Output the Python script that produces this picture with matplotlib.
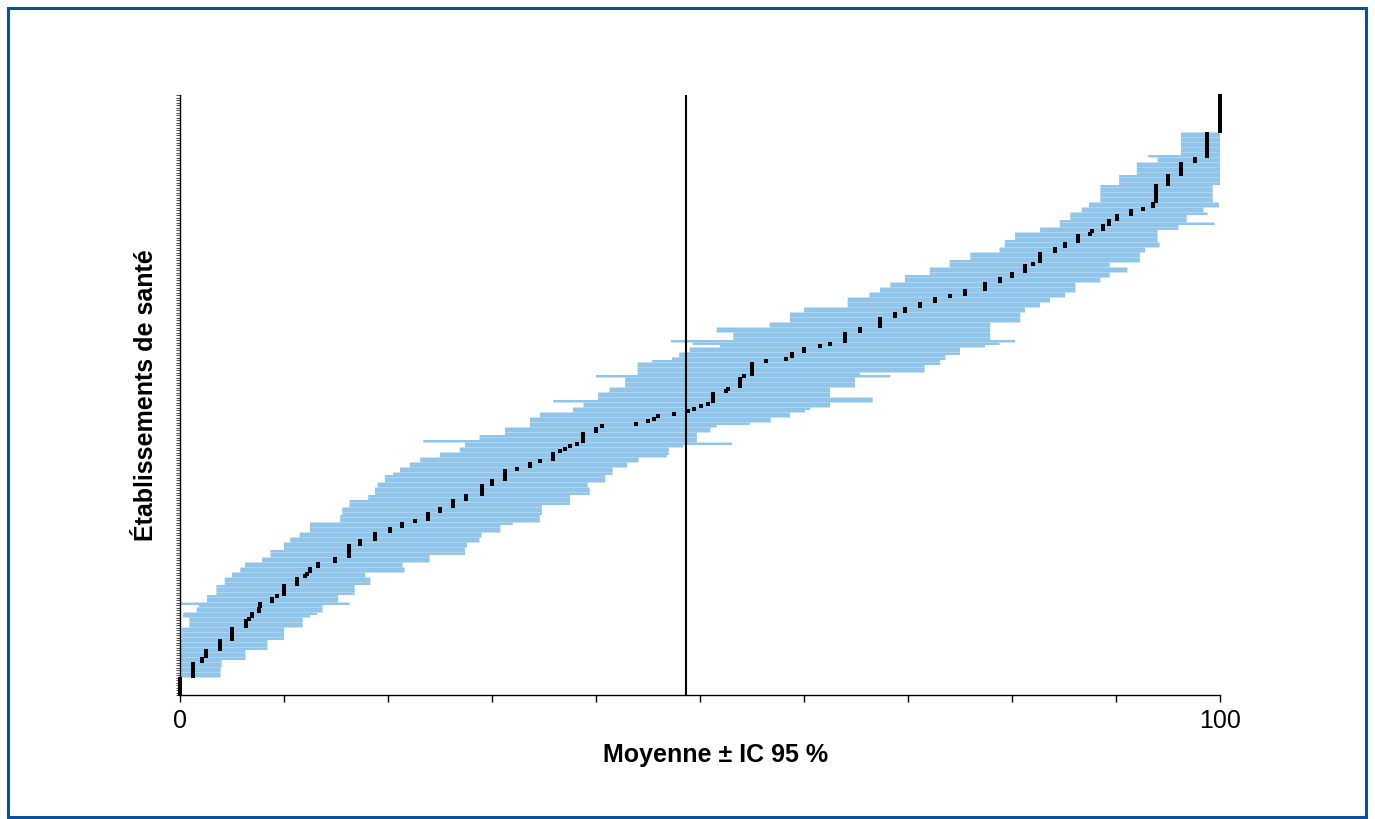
import matplotlib

matplotlib.use("Agg")
import matplotlib.pyplot as plt
import numpy as np
from matplotlib.patches import Rectangle

plt.rcParams["font.family"] = ["Liberation Sans", "DejaVu Sans"]

# Etablissements tries par moyenne (du bas vers le haut du graphique)
moyenne = [
    0, 0, 0, 0, 0, 0, 0, 1.25, 1.25, 1.25,
    1.25, 1.25, 1.25, 2.1, 2.1, 2.5, 2.5, 2.5, 3.8, 3.8,
    3.8, 3.8, 5.0, 5.0, 5.0, 5.0, 5.0, 6.3, 6.3, 6.3,
    6.6, 6.9, 6.9, 7.6, 7.6, 7.7, 7.7, 8.8, 8.8, 9.3,
    10.0, 10.0, 10.0, 10.0, 11.25, 11.25, 11.25, 12.0, 12.2, 12.5,
    12.5, 13.3, 13.3, 14.9, 14.9, 16.25, 16.25, 16.25, 16.25, 16.25,
    17.3, 17.3, 18.75, 18.75, 18.75, 20.2, 20.2, 21.3, 21.3, 22.6,
    23.8, 23.8, 23.8, 25.0, 25.0, 26.25, 26.25, 26.25, 27.5, 27.5,
    29.0, 29.0, 29.0, 29.0, 30.0, 30.0, 31.25, 31.25, 31.25, 31.25,
    32.4, 33.65, 33.65, 34.6, 35.9, 35.9, 35.9, 36.5, 37.0, 37.5,
    38.2, 38.75, 38.75, 38.75, 38.75, 40.0, 40.0, 40.6, 43.85, 45.0,
    45.6, 46.0, 47.5, 48.8, 49.4, 50.1, 50.8, 51.25, 51.25, 51.25,
    51.25, 52.5, 52.7, 53.8, 53.8, 53.8, 53.8, 54.2, 55.0, 55.0,
    55.0, 55.0, 55.0, 56.3, 58.3, 58.8, 58.8, 60.0, 60.0, 61.5,
    62.5, 63.9, 63.9, 63.9, 63.9, 65.4, 65.4, 67.3, 67.3, 67.3,
    67.3, 68.75, 68.75, 69.7, 69.7, 71.15, 71.15, 72.6, 72.6, 74.0,
    75.5, 75.5, 77.4, 77.4, 77.4, 78.8, 78.8, 80.0, 80.0, 81.25,
    81.25, 81.25, 82.0, 82.7, 82.7, 82.7, 82.7, 84.1, 84.1, 85.1,
    85.1, 86.3, 86.3, 86.3, 87.5, 87.7, 88.75, 88.75, 89.3, 89.3,
    90.1, 90.1, 91.4, 91.4, 92.6, 93.6, 93.6, 93.85, 93.85, 93.85,
    93.85, 93.85, 93.85, 93.85, 95.0, 95.0, 95.0, 95.0, 96.25, 96.25,
    96.25, 96.25, 96.25, 97.6, 97.6, 98.75, 98.75, 98.75, 98.75, 98.75,
    98.75, 98.75, 98.75, 98.75, 98.75, 100, 100, 100, 100, 100,
    100, 100, 100, 100, 100, 100, 100, 100, 100, 100,
]

ic_bas = [
    0, 0, 0, 0, 0, 0, 0, 0, 0, 0,
    0, 0, 0, 0, 0, 0, 0, 0, 0, 0,
    0, 0, 0.15, 0.15, 0.15, 0.15, 0.15, 0.9, 0.9, 0.9,
    0.9, 0.3, 0.3, 1.6, 1.6, 1.8, 0, 2.6, 2.6, 2.6,
    3.5, 3.5, 3.5, 3.5, 4.3, 4.3, 4.3, 5.0, 5.0, 5.8,
    5.8, 6.25, 6.25, 7.9, 7.9, 8.7, 8.7, 8.7, 10.0, 10.0,
    10.0, 10.6, 10.6, 11.5, 11.5, 12.5, 12.5, 12.5, 12.5, 15.4,
    15.4, 15.4, 15.6, 15.6, 15.6, 16.3, 16.3, 16.3, 18.1, 18.1,
    18.75, 18.75, 18.75, 19.0, 19.0, 19.7, 19.7, 19.7, 20.5, 21.15,
    21.15, 22.1, 22.1, 23.1, 23.1, 25.0, 25.0, 26.9, 26.9, 27.4,
    27.4, 23.4, 28.8, 28.8, 31.25, 31.25, 31.25, 33.65, 33.65, 33.65,
    33.65, 34.6, 34.6, 37.8, 37.8, 38.8, 38.8, 35.9, 40.2, 40.2,
    40.2, 41.3, 41.3, 42.8, 42.8, 42.8, 42.8, 40.0, 44.0, 44.0,
    44.0, 44.0, 44.0, 45.4, 47.3, 48.0, 48.0, 49.0, 49.0, 51.9,
    49.3, 47.2, 53.2, 53.2, 53.2, 51.6, 51.6, 56.7, 56.7, 58.65,
    58.65, 58.65, 58.65, 60.0, 60.0, 64.2, 64.2, 64.2, 64.2, 66.3,
    66.3, 67.3, 67.3, 68.3, 68.3, 69.7, 69.7, 69.7, 72.1, 72.1,
    72.1, 74.0, 74.0, 74.0, 76.0, 76.0, 76.0, 78.8, 78.8, 79.3,
    79.3, 79.3, 80.3, 80.3, 80.3, 82.7, 82.7, 84.6, 84.6, 84.6,
    85.6, 85.6, 85.6, 86.7, 86.7, 87.4, 87.4, 88.5, 88.5, 88.5,
    88.5, 88.5, 88.5, 88.5, 90.3, 90.3, 90.3, 90.3, 92.0, 92.0,
    92.0, 92.0, 92.0, 94.0, 94.0, 93.1, 96.25, 96.25, 96.25, 96.25,
    96.25, 96.25, 96.25, 96.25, 96.25, 100, 100, 100, 100, 100,
    100, 100, 100, 100, 100, 100, 100, 100, 100, 100,
]

ic_haut = [
    0, 0, 0, 0, 0, 0, 0, 3.9, 3.9, 3.9,
    3.9, 4.0, 4.0, 4.0, 6.3, 6.3, 6.3, 6.3, 8.4, 8.4,
    8.4, 8.4, 10.0, 10.0, 10.0, 10.0, 10.0, 11.8, 11.8, 11.8,
    11.8, 12.5, 13.2, 13.7, 13.7, 13.7, 16.3, 15.2, 15.2, 15.2,
    16.8, 16.8, 16.8, 16.8, 18.3, 18.3, 18.3, 17.8, 17.8, 21.6,
    21.6, 21.4, 21.4, 24.0, 24.0, 24.0, 27.4, 27.4, 27.4, 27.6,
    27.6, 28.8, 28.8, 29.0, 29.0, 30.8, 30.8, 30.8, 32.0, 34.6,
    34.6, 34.6, 34.8, 34.8, 34.8, 34.8, 37.5, 37.5, 37.5, 37.5,
    39.4, 39.4, 39.4, 39.2, 39.2, 40.9, 40.9, 40.9, 41.6, 41.6,
    41.6, 43.0, 43.0, 44.1, 44.1, 46.8, 47.0, 47.0, 47.0, 48.4,
    53.1, 49.7, 49.7, 49.7, 49.7, 51.0, 51.0, 51.6, 54.8, 56.8,
    56.8, 58.65, 58.65, 60.1, 60.6, 62.5, 62.5, 66.6, 66.6, 62.5,
    62.5, 62.5, 62.5, 64.9, 64.9, 64.9, 64.9, 68.3, 65.4, 71.6,
    71.6, 71.6, 73.1, 73.1, 73.6, 73.6, 75.0, 75.0, 75.0, 77.4,
    78.8, 80.3, 77.9, 77.9, 77.9, 77.9, 77.9, 77.9, 77.9, 80.8,
    80.8, 80.8, 80.8, 81.25, 81.25, 82.7, 82.7, 83.65, 83.65, 85.1,
    85.1, 86.1, 86.1, 86.1, 86.1, 88.5, 88.5, 89.4, 89.4, 91.1,
    91.1, 89.4, 89.4, 92.3, 92.3, 92.3, 92.3, 92.8, 92.8, 94.2,
    94.2, 94.0, 94.0, 94.0, 94.0, 94.0, 96.0, 96.0, 99.5, 96.8,
    96.8, 96.8, 98.8, 98.4, 98.4, 99.9, 99.9, 99.3, 99.3, 99.3,
    99.3, 99.3, 99.3, 99.3, 100, 100, 100, 100, 100, 100,
    100, 100, 100, 100, 100, 100, 100, 100, 100, 100,
    100, 100, 100, 100, 100, 100, 100, 100, 100, 100,
    100, 100, 100, 100, 100, 100, 100, 100, 100, 100,
]

moyenne_globale = 48.65
x_ticks = [0, 10, 20, 30, 40, 50, 60, 70, 80, 90, 100]
x_labels = ["0", "", "", "", "", "", "", "", "", "", "100"]

assert len(moyenne) == len(ic_bas) == len(ic_haut)
n = len(moyenne)
rang = np.arange(n)
moy = np.array(moyenne)
bas = np.array(ic_bas)
haut = np.array(ic_haut)

fig = plt.figure(figsize=(13.75, 8.19), dpi=100)
ax = fig.add_axes([180 / 1375, 124 / 819, 1040 / 1375, 600 / 819])

bars = ax.barh(rang, haut - bas, left=bas, height=0.97, color="#8EC3EA",
               linewidth=0, zorder=1)
for b in bars:
    b.set_snap(False)
ax.axvline(moyenne_globale, color="black", lw=1.5, zorder=2)
pts, = ax.plot(moy, rang, ls="none", marker="s", ms=2.3, color="black",
               mec="black", mew=0, zorder=3, clip_on=False)
pts.set_snap(False)

ax.set_xlim(0, 100)
ax.set_ylim(-0.5, n - 0.5)
ax.set_xticks(x_ticks)
ax.set_xticklabels(x_labels, fontsize=18)
ax.set_yticks(np.arange(-0.5, n, 1))
ax.set_yticklabels([])
ax.tick_params(axis="x", direction="out", length=5, width=1, pad=5)
ax.tick_params(axis="y", direction="out", length=3, width=0.6, color="#333333")
for s in ["top", "right"]:
    ax.spines[s].set_visible(False)
for s in ["left", "bottom"]:
    ax.spines[s].set_linewidth(1)

ax.set_xlabel("Moyenne ± IC 95 %", fontsize=18, fontweight="bold")
ax.xaxis.set_label_coords(0.515, -0.08)
ax.set_ylabel("Établissements de santé", fontsize=18, fontweight="bold", labelpad=9)

# cadre bleu autour du graphique
fig.patches.append(Rectangle((8 / 1375, 2 / 819), 1358 / 1375, 809 / 819,
                             transform=fig.transFigure, fill=False,
                             edgecolor="#104E9A", lw=2.2))

fig.savefig("out.png", dpi=100)
